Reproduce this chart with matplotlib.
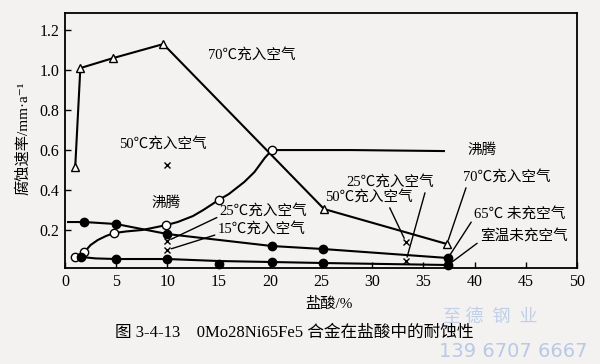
import matplotlib
matplotlib.use('Agg')
import matplotlib.pyplot as plt

plt.rcParams['font.family'] = ['Liberation Serif', 'Noto Sans CJK SC', 'DejaVu Sans']

# 70℃ 充入空气 (open triangles)
hot_air_x = [1, 1.5, 4.7, 9.6, 25.3, 37.3]
hot_air_y = [0.515, 1.01, 1.06, 1.13, 0.305, 0.13]

# 沸腾 (open circles), plus unmarked points
boil_x = [1, 1.9, 4.8, 9.9, 15, 20.2]
boil_y = [0.065, 0.09, 0.185, 0.225, 0.35, 0.6]
boil_line_x = [1, 1.9, 2.5, 3.2, 4, 4.8, 6, 7.5, 8.5, 9.9, 11, 12.5, 13.5,
               15, 16, 17.5, 18.5, 19.5, 20.2, 28, 37]
boil_line_y = [0.065, 0.09, 0.125, 0.15, 0.17, 0.185, 0.193, 0.2, 0.21, 0.225,
               0.24, 0.27, 0.3, 0.35, 0.38, 0.44, 0.49, 0.56, 0.6, 0.6, 0.595]

# 65℃ 未充空气 (filled circles)
c65_x = [1.9, 5, 10, 20.2, 25.2, 37.4]
c65_y = [0.24, 0.23, 0.18, 0.12, 0.105, 0.06]
c65_line_x = [0.3] + c65_x
c65_line_y = [0.24] + c65_y

# 室温未充空气 (filled circles)
room_x = [1.6, 5, 10, 15, 20.2, 25.2, 37.4]
room_y = [0.065, 0.055, 0.055, 0.03, 0.04, 0.035, 0.025]
room_line_x = [1.6, 3, 5, 10, 15, 20.2, 25.2, 37.4]
room_line_y = [0.065, 0.058, 0.055, 0.055, 0.045, 0.04, 0.035, 0.025]

# single points (crosses)
x50 = [10, 33.3]
y50 = [0.525, 0.14]
x25 = [10, 33.3]
y25 = [0.145, 0.045]
x15 = [10]
y15 = [0.1]

fig = plt.figure(figsize=(6, 3.64), dpi=100)
bg = '#f4f2f1'
fig.patch.set_facecolor(bg)
ax = fig.add_axes([0.1083, 0.2637, 0.8534, 0.7003])
ax.set_facecolor(bg)

k = 'black'
ax.plot(hot_air_x, hot_air_y, color=k, lw=1.5, marker='^', ms=5.5,
        mfc='white', mec=k, mew=1)
ax.plot(boil_line_x, boil_line_y, color=k, lw=1.5)
ax.plot(boil_x, boil_y, ls='none', marker='o', ms=6, mfc='white', mec=k, mew=1)
ax.plot(c65_line_x, c65_line_y, color=k, lw=1.5)
ax.plot(c65_x, c65_y, ls='none', marker='o', ms=6, color=k)
ax.plot(room_line_x, room_line_y, color=k, lw=1.5)
ax.plot(room_x, room_y, ls='none', marker='o', ms=6, color=k, clip_on=False)
ax.plot(x50, y50, ls='none', marker='x', ms=5, color=k, mew=1)
ax.plot(x25, y25, ls='none', marker='x', ms=5, color=k, mew=1)
ax.plot(x15, y15, ls='none', marker='x', ms=5, color=k, mew=1)

ax.set_xlim(0, 50)
ax.set_ylim(0.01, 1.285)
ax.set_xticks([0, 5, 10, 15, 20, 25, 30, 35, 40, 45, 50])
ax.set_yticks([0.2, 0.4, 0.6, 0.8, 1.0, 1.2])
ax.set_yticklabels(['0.2', '0.4', '0.6', '0.8', '1.0', '1.2'])
ax.tick_params(direction='in', length=4, width=1, labelsize=11.5, pad=4)
for s in ax.spines.values():
    s.set_linewidth(1.3)

ax.set_xlabel('盐酸/%', fontsize=11)
ax.xaxis.set_label_coords(0.516, -0.115)
ax.set_ylabel('腐蚀速率/mm·a⁻¹', fontsize=11)
ax.yaxis.set_label_coords(-0.068, 0.51)

fs = 10.5
ax.text(18.2, 1.07, '70℃充入空气', fontsize=fs, ha='center', va='center')
ax.text(9.6, 0.625, '50℃充入空气', fontsize=fs, ha='center', va='center')
ax.text(9.9, 0.335, '沸腾', fontsize=fs, ha='center', va='center')
ax.text(40.7, 0.6, '沸腾', fontsize=fs, ha='center', va='center')

arrow = dict(arrowstyle='-', color=k, lw=1, shrinkA=0, shrinkB=3)
ax.annotate('25℃充入空气', xy=(10, 0.145), xytext=(15.1, 0.29), fontsize=fs,
            ha='left', va='center', arrowprops=dict(arrow, relpos=(0, 0.2)))
ax.annotate('15℃充入空气', xy=(10, 0.1), xytext=(14.9, 0.2), fontsize=fs,
            ha='left', va='center', arrowprops=dict(arrow, relpos=(0, 0.2)))
ax.annotate('25℃充入空气', xy=(33.3, 0.045), xytext=(31.8, 0.435), fontsize=fs,
            ha='center', va='center', arrowprops=dict(arrow, relpos=(0.9, 0)))
ax.annotate('50℃充入空气', xy=(33.3, 0.14), xytext=(29.7, 0.36), fontsize=fs,
            ha='center', va='center', arrowprops=dict(arrow, relpos=(0.72, 0)))
ax.annotate('70℃充入空气', xy=(37.3, 0.13), xytext=(43.1, 0.46), fontsize=fs,
            ha='center', va='center', arrowprops=dict(arrow, relpos=(0.05, 0)))
ax.annotate('65℃ 未充空气', xy=(37.4, 0.06), xytext=(44.4, 0.275), fontsize=fs,
            ha='center', va='center', arrowprops=dict(arrow, relpos=(0, 0.3)))
ax.annotate('室温未充空气', xy=(37.4, 0.025), xytext=(44.8, 0.165), fontsize=fs,
            ha='center', va='center', arrowprops=dict(arrow, relpos=(0, 0.2)))

fig.text(0.49, 0.085, '图 3-4-13    0Mo28Ni65Fe5 合金在盐酸中的耐蚀性',
         fontsize=12, ha='center', va='center')
fig.text(0.817, 0.128, '至 德  钢  业', fontsize=13, color='#c0cfe8', ha='center', va='center')
fig.text(0.855, 0.033, '139 6707 6667', fontsize=14, color='#b8c9e6',
         ha='center', va='center', family=['DejaVu Sans'])

fig.savefig('out.png', dpi=100, facecolor=bg)
